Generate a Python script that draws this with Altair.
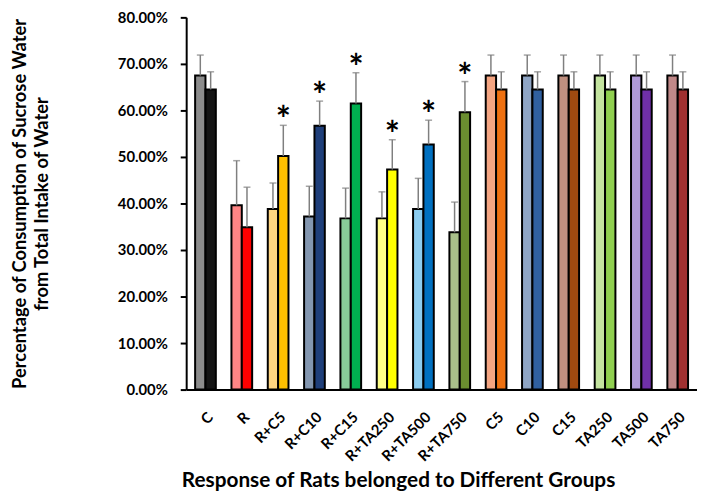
import altair as alt
import pandas as pd

groups = ["C", "R", "R+C5", "R+C10", "R+C15", "R+TA250", "R+TA500", "R+TA750",
          "C5", "C10", "C15", "TA250", "TA500", "TA750"]
light_vals = [67.5, 39.6, 38.8, 37.2, 36.8, 36.8, 38.8, 33.8, 67.5, 67.5, 67.5, 67.5, 67.5, 67.5]
dark_vals = [64.5, 34.9, 50.2, 56.7, 61.5, 47.3, 52.7, 59.6, 64.5, 64.5, 64.5, 64.5, 64.5, 64.5]
light_sd = [4.4, 9.6, 5.6, 6.5, 6.5, 5.7, 6.6, 6.5, 4.4, 4.4, 4.4, 4.4, 4.4, 4.4]
dark_sd = [3.8, 8.6, 6.6, 5.3, 6.6, 6.4, 5.2, 6.6, 3.8, 3.8, 3.8, 3.8, 3.8, 3.8]
significant = [False, False, True, True, True, True, True, True,
               False, False, False, False, False, False]
light_colors = ["#8c8c8c", "#ff8585", "#ffd580", "#8497b0", "#88cc99", "#ffff88", "#8ccdf0",
                "#a9c08a", "#f4a582", "#8fa5c4", "#c09080", "#c4e4a0", "#b09ad8", "#c08888"]
dark_colors = ["#141414", "#ff0000", "#ffc000", "#1f3f7a", "#00b050", "#ffff00", "#0070c0",
               "#6b8e30", "#ee7010", "#3060a0", "#a04a10", "#90d050", "#7030a8", "#a03030"]

rows = []
for i, g in enumerate(groups):
    rows.append({"group": g, "series": "a", "key": g + "|a", "value": light_vals[i] / 100,
                 "top": (light_vals[i] + light_sd[i]) / 100, "star": ""})
    rows.append({"group": g, "series": "b", "key": g + "|b", "value": dark_vals[i] / 100,
                 "top": (dark_vals[i] + dark_sd[i]) / 100, "star": "*" if significant[i] else ""})
df = pd.DataFrame(rows)

keys = []
cols = []
for i, g in enumerate(groups):
    keys += [g + "|a", g + "|b"]
    cols += [light_colors[i], dark_colors[i]]

FONT = "Lato"

x_enc = alt.X("group:N", sort=groups,
              scale=alt.Scale(paddingInner=0.43, paddingOuter=0.246),
              axis=alt.Axis(title="Response of Rats belonged to Different Groups",
                            labelAngle=-45, labelFontSize=15, labelFontWeight="bold",
                            labelFont=FONT, labelColor="black", ticks=False,
                            domainColor="black", domainWidth=2, labelPadding=20,
                            titleFont=FONT, titleFontSize=21, titleFontWeight="bold",
                            titleColor="black", titleX=214, titleY=98,
                            titleBaseline="alphabetic"))
xo = alt.XOffset("series:N", scale=alt.Scale(paddingInner=0, paddingOuter=0))
y_scale = alt.Scale(domain=[0, 0.8], nice=False)

base = alt.Chart(df)

bars = base.mark_bar(stroke="black", strokeWidth=2).encode(
    x=x_enc,
    xOffset=xo,
    y=alt.Y("value:Q", scale=y_scale,
            axis=alt.Axis(title=["Percentage of Consumption of Sucrose Water",
                                 "from Total Intake of Water"],
                          format=".2%", values=[0, 0.1, 0.2, 0.3, 0.4, 0.5, 0.6, 0.7, 0.8],
                          grid=False, labelFontSize=15, labelFontWeight="bold",
                          labelFont=FONT, labelColor="black", domainColor="black",
                          domainWidth=2, tickColor="black", tickWidth=2, tickSize=6,
                          labelPadding=13, titleFont=FONT, titleFontSize=18.5,
                          titleFontWeight="bold", titleColor="black",
                          titleLineHeight=23, titlePadding=66)),
    color=alt.Color("key:N", scale=alt.Scale(domain=keys, range=cols), legend=None),
)

err = base.mark_rule(color="#7f7f7f", strokeWidth=1.5).encode(
    x=alt.X("group:N", sort=groups), xOffset=xo,
    y=alt.Y("value:Q", scale=y_scale), y2="top:Q")

caps = base.mark_tick(color="#7f7f7f", thickness=1.5, size=7, orient="horizontal").encode(
    x=alt.X("group:N", sort=groups), xOffset=xo,
    y=alt.Y("top:Q", scale=y_scale))

stars = base.mark_text(font=FONT, fontSize=36, fontWeight="bold", color="black",
                       baseline="middle", dy=-4).encode(
    x=alt.X("group:N", sort=groups), xOffset=xo,
    y=alt.Y("top:Q", scale=y_scale), text="star:N")

chart = alt.layer(bars, err, caps, stars).properties(
    width=516, height=376,
    autosize=alt.AutoSizeParams(type="none"),
    padding={"left": 180, "top": 7, "right": 0, "bottom": 102},
).configure_view(stroke=None)

chart.save("out.html", embed_options={"renderer": "svg", "actions": False})
